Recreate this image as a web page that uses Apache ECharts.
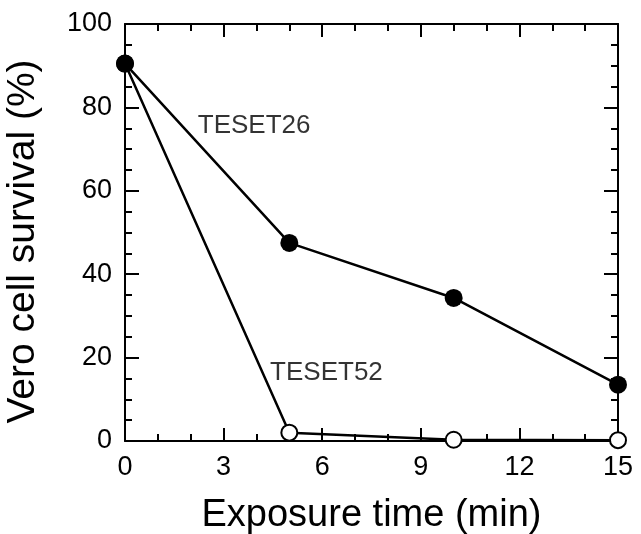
<!DOCTYPE html>
<html><head><meta charset="utf-8">
<script src="https://cdn.jsdelivr.net/npm/echarts@6/dist/echarts.min.js"></script>
<style>html,body{margin:0;padding:0;background:#fff}#c{width:641px;height:534px}</style>
</head><body><div id="c"></div>
<script>
const xTime = [0, 5, 10, 15];
const teset26 = [90.5, 47.5, 34.3, 13.5];
const teset52 = [90.5, 2.0, 0.3, 0.2];
const labels = [
  {name: 'TESET26', x: 2.2, y: 75.6},
  {name: 'TESET52', x: 4.4, y: 16.4}
];
const font = 'Liberation Sans, Arial, Helvetica, sans-serif';
const chart = echarts.init(document.getElementById('c'), null, {renderer: 'canvas'});
const axisLine = {show: true, onZero: false, lineStyle: {color: '#000', width: 2}};
function xa(pos, showLabel) {
  return {
    type: 'value', position: pos, min: 0, max: 15, interval: 3,
    axisLine: axisLine,
    axisTick: {show: true, inside: true, length: 13, lineStyle: {color: '#000', width: 2}},
    minorTick: {show: true, splitNumber: 3, length: 7, lineStyle: {color: '#000', width: 2}},
    splitLine: {show: false}, minorSplitLine: {show: false},
    axisLabel: {show: showLabel, color: '#000', fontSize: 27, fontFamily: font, margin: 13},
    name: showLabel ? 'Exposure time (min)' : '',
    nameLocation: 'middle', nameGap: 56,
    nameTextStyle: {color: '#000', fontSize: 38, fontFamily: font}
  };
}
function ya(pos, showLabel) {
  return {
    type: 'value', position: pos, min: 0, max: 100, interval: 20,
    axisLine: axisLine,
    axisTick: {show: true, inside: true, length: 14, lineStyle: {color: '#000', width: 2}},
    minorTick: {show: true, splitNumber: 4, length: 7, lineStyle: {color: '#000', width: 2}},
    splitLine: {show: false}, minorSplitLine: {show: false},
    axisLabel: {show: showLabel, color: '#000', fontSize: 27, fontFamily: font, margin: 13},
    name: showLabel ? 'Vero cell survival (%)' : '',
    nameLocation: 'middle', nameGap: 82, nameRotate: 90,
    nameTextStyle: {color: '#000', fontSize: 39, fontFamily: font, padding: [0, 18, 0, 0]}
  };
}
chart.setOption({
  animation: false,
  backgroundColor: '#fff',
  grid: {left: 125, right: 23, top: 24, bottom: 93, containLabel: false, outerBoundsMode: 'none'},
  xAxis: [xa('bottom', true), xa('top', false)],
  yAxis: [ya('left', true), ya('right', false)],
  series: [
    {
      type: 'line', name: 'TESET52',
      data: xTime.map((x, i) => [x, teset52[i]]),
      symbol: 'circle', symbolSize: 16,
      lineStyle: {color: '#000', width: 2.5},
      itemStyle: {color: '#fff', borderColor: '#000', borderWidth: 2},
      z: 3
    },
    {
      type: 'line', name: 'TESET26',
      data: xTime.map((x, i) => [x, teset26[i]]),
      symbol: 'circle', symbolSize: 18,
      lineStyle: {color: '#000', width: 2.5},
      itemStyle: {color: '#000', borderColor: '#000', borderWidth: 0},
      z: 4
    },
    {
      type: 'scatter', symbol: 'circle', symbolSize: 1,
      data: labels.map(l => ({name: l.name, value: [l.x, l.y]})),
      itemStyle: {color: 'rgba(0,0,0,0)'},
      label: {show: true, position: 'right', distance: 0,
        formatter: p => p.name, color: '#000', fontSize: 26, fontFamily: font},
      emphasis: {disabled: true},
      silent: true, z: 5
    }
  ]
});
</script></body></html>
